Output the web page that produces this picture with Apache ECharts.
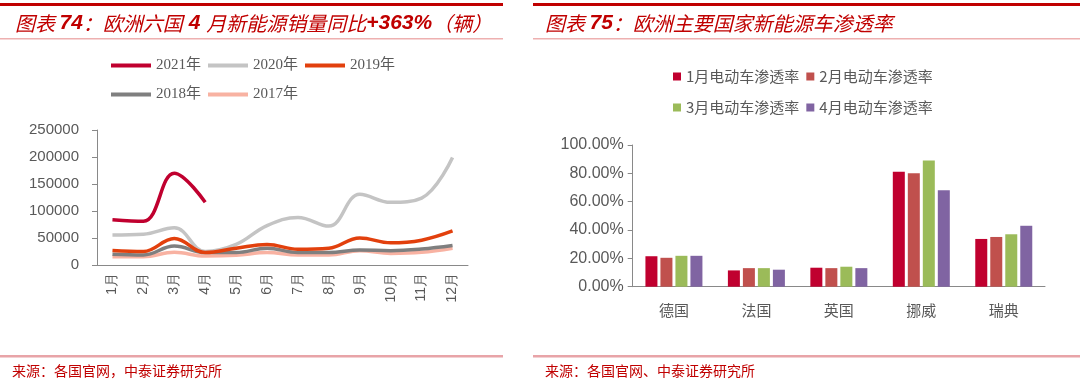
<!DOCTYPE html>
<html><head><meta charset="utf-8">
<script src="https://cdn.jsdelivr.net/npm/echarts@6/dist/echarts.min.js"></script>
<style>html,body{margin:0;padding:0;background:#fff}#c{width:1080px;height:386px}</style>
</head><body><div id="c"></div>
<script>
// ---- Left chart data (vehicles) ----
const months = ['1月','2月','3月','4月','5月','6月','7月','8月','9月','10月','11月','12月'];
const y2021 = [84000, 81000, 170000, 116000];
const y2020 = [55500, 57000, 69000, 25000, 38000, 73000, 88000, 72000, 131000, 116000, 124000, 199000];
const y2019 = [27000, 25000, 49000, 23000, 31000, 38000, 29000, 31000, 50000, 41000, 46000, 63000];
const y2018 = [20000, 18500, 35000, 23000, 23000, 31000, 23000, 23000, 28000, 26500, 29500, 36000];
const y2017 = [15500, 15500, 23500, 16500, 18000, 23000, 18500, 18500, 26500, 21500, 23500, 31000];
const leftTicks = {min: 0, max: 250000, interval: 50000};

// ---- Right chart data (penetration) ----
const countries = ['德国','法国','英国','挪威','瑞典'];
const jan = [0.215, 0.115, 0.134, 0.812, 0.337];
const feb = [0.204, 0.131, 0.131, 0.800, 0.351];
const mar = [0.218, 0.131, 0.141, 0.890, 0.370];
const apr = [0.218, 0.120, 0.131, 0.680, 0.430];
const rightTicks = {min: 0, max: 1, interval: 0.2};

const RED = '#c00000';
const AX = '#898989';
const LBL = '#595959';
const chart = echarts.init(document.getElementById('c'), null, {renderer: 'canvas'});

const titleRich = {
  c: {fontFamily: 'Noto Sans CJK SC', fontSize: 20, fontStyle: 'italic', fill: RED, fontWeight: 'normal'},
  n: {fontFamily: 'Liberation Sans', fontSize: 21, fontStyle: 'italic', fontWeight: 'bold', fill: RED}
};

function lineSeries(name, data, color, z) {
  return {name, type: 'line', data, smooth: 0.4, showSymbol: false, symbol: 'none',
    xAxisIndex: 0, yAxisIndex: 0, z,
    lineStyle: {color, width: 3.5}, itemStyle: {color}};
}
function barSeries(name, data, color) {
  return {name, type: 'bar', data, xAxisIndex: 1, yAxisIndex: 1, barWidth: 12, barGap: '25%',
    itemStyle: {color}};
}

const legendTextL = {fontFamily: "'Liberation Serif', 'Noto Sans CJK SC'", fontSize: 15, color: LBL};
const legendTextR = {fontFamily: "'Noto Sans CJK SC'", fontSize: 15, color: LBL};

chart.setOption({
  animation: false,
  backgroundColor: '#fff',
  graphic: [
    {type: 'rect', shape: {x: 0, y: 3, width: 503, height: 3}, style: {fill: RED}},
    {type: 'rect', shape: {x: 533, y: 3, width: 547, height: 3}, style: {fill: RED}},
    {type: 'rect', shape: {x: 0, y: 38, width: 503, height: 1.5}, style: {fill: '#eeb0b0'}},
    {type: 'rect', shape: {x: 533, y: 38, width: 547, height: 1.5}, style: {fill: '#eeb0b0'}},
    {type: 'rect', shape: {x: 0, y: 355, width: 503, height: 2.5}, style: {fill: '#e8a4a8'}},
    {type: 'rect', shape: {x: 533, y: 355, width: 547, height: 2.5}, style: {fill: '#e8a4a8'}},
    {type: 'text', x: 15, y: 23, style: {text: '{c|图表 }{n|74}{c|：欧洲六国}{n| 4 }{c|月新能源销量同比}{n|+363%}{c|（辆）}', rich: titleRich, verticalAlign: 'middle'}},
    {type: 'text', x: 545, y: 23, style: {text: '{c|图表 }{n|75}{c|：欧洲主要国家新能源车渗透率}', rich: titleRich, verticalAlign: 'middle'}},
    {type: 'text', x: 12, y: 371, style: {text: '来源：各国官网，中泰证券研究所', fill: RED, fontFamily: 'Noto Sans CJK SC', fontSize: 14, verticalAlign: 'middle'}},
    {type: 'text', x: 545, y: 371, style: {text: '来源：各国官网、中泰证券研究所', fill: RED, fontFamily: 'Noto Sans CJK SC', fontSize: 14, verticalAlign: 'middle'}}
  ],
  legend: [
    {data: ['2021年','2020年','2019年'], left: 111, top: 58, icon: 'rect', itemWidth: 40, itemHeight: 4, itemGap: 7, textStyle: legendTextL, padding: 0},
    {data: ['2018年','2017年'], left: 111, top: 87, icon: 'rect', itemWidth: 40, itemHeight: 4, itemGap: 7, textStyle: legendTextL, padding: 0},
    {data: ['1月电动车渗透率','2月电动车渗透率'], left: 673, top: 69, icon: 'rect', itemWidth: 8, itemHeight: 8, itemGap: 7, textStyle: legendTextR, padding: 0},
    {data: ['3月电动车渗透率','4月电动车渗透率'], left: 673, top: 100, icon: 'rect', itemWidth: 8, itemHeight: 8, itemGap: 7, textStyle: legendTextR, padding: 0}
  ],
  grid: [
    {left: 97, right: 612, top: 130, bottom: 121},
    {left: 632.7, right: 35, top: 145, bottom: 99.3}
  ],
  xAxis: [
    {type: 'category', gridIndex: 0, data: months, boundaryGap: true,
     axisLine: {lineStyle: {color: AX}}, axisTick: {length: 4, lineStyle: {color: AX}},
     axisLabel: {rotate: 90, fontSize: 14, color: LBL, fontFamily: 'Liberation Sans', margin: 8}},
    {type: 'category', gridIndex: 1, data: countries, boundaryGap: true,
     axisLine: {lineStyle: {color: AX}}, axisTick: {length: 4, lineStyle: {color: AX}},
     axisLabel: {fontSize: 15, color: LBL, fontFamily: 'Noto Sans CJK SC', margin: 16}}
  ],
  yAxis: [
    {type: 'value', gridIndex: 0, min: leftTicks.min, max: leftTicks.max, interval: leftTicks.interval,
     axisLine: {show: true, lineStyle: {color: AX}}, axisTick: {show: true, length: 5, lineStyle: {color: AX}},
     splitLine: {show: false},
     axisLabel: {fontSize: 15, color: LBL, fontFamily: 'Liberation Sans', margin: 18, formatter: v => String(v)}},
    {type: 'value', gridIndex: 1, min: rightTicks.min, max: rightTicks.max, interval: rightTicks.interval,
     axisLine: {show: true, lineStyle: {color: AX}}, axisTick: {show: true, length: 5, lineStyle: {color: AX}},
     splitLine: {show: false},
     axisLabel: {fontSize: 16, color: LBL, fontFamily: 'Liberation Sans', margin: 9,
       formatter: v => (v * 100).toFixed(2) + '%'}}
  ],
  series: [
    lineSeries('2017年', y2017, '#f8b2a2', 2),
    lineSeries('2018年', y2018, '#7f7f7f', 3),
    lineSeries('2020年', y2020, '#c4c4c4', 4),
    lineSeries('2019年', y2019, '#e2400d', 5),
    lineSeries('2021年', y2021, '#c0002f', 6),
    barSeries('1月电动车渗透率', jan, '#c0002f'),
    barSeries('2月电动车渗透率', feb, '#c0504d'),
    barSeries('3月电动车渗透率', mar, '#9bbb59'),
    barSeries('4月电动车渗透率', apr, '#8064a2')
  ]
});
</script></body></html>
